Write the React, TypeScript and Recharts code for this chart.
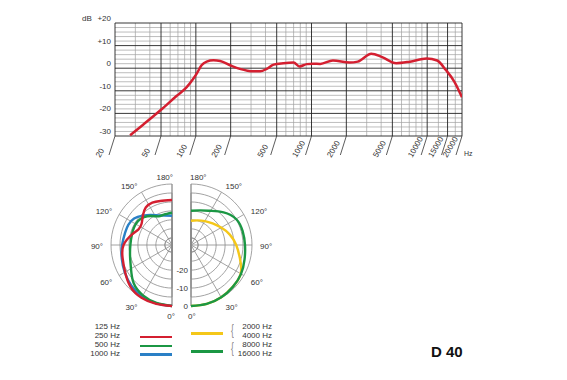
import React from "react";
import {
	CartesianGrid,
	Curve,
	Line,
	LineChart,
	PolarAngleAxis,
	PolarGrid,
	PolarRadiusAxis,
	Radar,
	RadarChart,
	XAxis,
	YAxis,
} from "recharts";

// frequency response (Hz / dB)
const freqHz = [27, 35, 50, 68, 83, 95, 102, 112, 124, 142, 162, 200, 240, 315, 360, 410, 470, 570, 700, 785, 910, 1030, 1190, 1530, 2130, 2510, 3290, 4080, 5400, 7090, 9900, 12200, 14500, 17200, 20000];
const responseDb = [-29.7, -25.0, -18.4, -12.3, -8.5, -4.7, -2.3, 1.3, 2.9, 3.5, 3.2, 1.2, -0.3, -1.4, -1.4, -0.3, 1.6, 2.2, 2.5, 0.8, 1.8, 2.0, 1.9, 3.4, 2.5, 2.9, 6.4, 4.9, 2.2, 2.9, 4.3, 3.4, -0.8, -6.0, -12.9];

const freqTicks = [20, 50, 100, 200, 500, 1000, 2000, 5000, 10000, 15000, 20000];
const freqMinor = [30, 40, 60, 70, 80, 90, 300, 400, 600, 700, 800, 900, 3000, 4000, 6000, 7000, 8000, 9000, 12500, 17500];
const dbTicks = [-30, -20, -10, 0, 10, 20];
const dbMinor = [-28, -26, -24, -22, -18, -16, -14, -12, -8, -6, -4, -2, 2, 4, 6, 8, 12, 14, 16, 18];

// polar patterns (degrees / dB)
const leftAngles = [0, 15, 30, 45, 60, 75, 90, 105, 115, 125, 135, 145, 155, 165, 180];
const red250 = [0, 0, 0, -1.2, -3.8, -5.5, -7, -11, -13.4, -13.3, -11, -8.5, -8, -8.6, -8.9];
const green500 = [0, -0.6, -1.6, -3.8, -7.6, -9.8, -10.8, -10.9, -10.7, -10.8, -12, -14.3, -16.4, -16.5, -16];
const blue1000 = [0, -0.3, -0.8, -2, -3.6, -5, -6.2, -7, -7.2, -8.2, -10.8, -13.5, -15.8, -17, -17.7];

const rightAngles = [0, 15, 30, 45, 60, 75, 90, 105, 120, 135, 150, 165, 180];
const yellow2000 = [0, 0, -0.3, -1.1, -2, -5.8, -8.8, -11.6, -14.6, -17, -18.6, -19.8, -20.5];
const green8000 = [0, 0, -0.3, -1, -1.8, -3.1, -3.9, -4.2, -5, -8.3, -12, -14, -14.9];

const angleTicks = [0, 30, 60, 90, 120, 150, 180];
const ringDb = [-30, -25, -20, -15, -10, -5, 0];
const radiusLabels = [-20, -10, 0];
const leftLegend = ["125 Hz", "250 Hz", "500 Hz", "1000 Hz"];
const rightLegend = ["2000 Hz", "4000 Hz", "8000 Hz", "16000 Hz"];

const RED = "#d41f30";
const GREEN = "#1b9744";
const BLUE = "#2a80c6";
const YELLOW = "#f4c719";
const FONT = "'Liberation Sans', Arial, Helvetica, sans-serif";

const DB_MIN = -34;
const OUTER = 61;
const ringRadius = ringDb.map((d) => ((d - DB_MIN) / -DB_MIN) * OUTER);

const responseData = freqHz.map((f, i) => ({ f, db: responseDb[i] }));
const leftData = leftAngles.map((angle, i) => ({ angle, red: red250[i], green: green500[i], blue: blue1000[i] }));
const rightData = rightAngles.map((angle, i) => ({ angle, yellow: yellow2000[i], green: green8000[i] }));

const leftArc = Array.from({ length: 37 }, (_, i) => 90 + i * 5);
const rightArc = Array.from({ length: 37 }, (_, i) => -90 + i * 5);
const leftSpokes = [270, 240, 210, 180, 150, 120, 90];
const rightSpokes = [-90, -60, -30, 0, 30, 60, 90];

function FreqTick({ x, y, payload }: any) {
	return (
		<g>
			<line stroke="#333" strokeWidth={0.8} x1={x} x2={x - 6} y1={y} y2={y + 19} />
			<text fill="#333" fontSize={8} transform={`translate(${x - 15},${y + 22}) rotate(-60)`}>
				{payload.value}
			</text>
		</g>
	);
}

function DbTick({ x, y, payload }: any) {
	const v = payload.value;
	return (
		<g>
			{v === 20 && (
				<text fill="#333" fontSize={8} x={82} y={y - 2}>
					dB
				</text>
			)}
			<text fill="#333" fontSize={8} textAnchor="end" x={x} y={y - 2}>
				{v > 0 ? `+${v}` : v}
			</text>
		</g>
	);
}

const angleTick = (side: "left" | "right") =>
	function AngleTick({ x, y, payload }: any) {
		const v = payload.value;
		const sign = side === "left" ? -1 : 1;
		let dx = 0;
		let dy = 1;
		if (v === 180) dx = sign * -1;
		if (v === 0) {
			dx = sign * -3;
			dy = 2;
		}
		if (v === 60 || v === 30) dy = 3;
		return (
			<text dominantBaseline="central" fill="#333" fontSize={8} textAnchor={side === "left" ? "end" : "start"} x={x + dx} y={y + dy}>
				{v}°
			</text>
		);
	};

function RadiusTick({ x, y, payload }: any) {
	return (
		<text dominantBaseline="central" fill="#333" fontSize={8} textAnchor="end" x={x - 3} y={y}>
			{payload.value}
		</text>
	);
}

const openCurve = (color: string) =>
	function OpenCurve(props: any) {
		return <Curve fill="none" points={props.points} stroke={color} strokeWidth={2.4} type="natural" />;
	};

const abs = (left: number, top: number): React.CSSProperties => ({ left, position: "absolute", top });

const braceStyle: React.CSSProperties = {
	color: "#888",
	fontSize: 14,
	fontWeight: 300,
	height: 16,
	lineHeight: "16px",
	transform: "scale(0.6, 1.05)",
};

export default function App() {
	return (
		<div style={{ background: "#fff", color: "#333", fontFamily: FONT, height: 380, left: 0, position: "absolute", top: 0, width: 567 }}>
			<div style={abs(0, 0)}>
				<LineChart data={responseData} height={170} margin={{ bottom: 4, left: 85, right: 105, top: 23 }} width={567}>
					<CartesianGrid horizontalValues={dbMinor} stroke="#a0a0a0" strokeWidth={0.7} verticalValues={freqMinor} />
					<CartesianGrid horizontalValues={dbTicks} stroke="#222" strokeWidth={0.9} verticalValues={freqTicks} />
					<XAxis
						allowDataOverflow
						axisLine={false}
						dataKey="f"
						domain={[20, 20000]}
						height={30}
						interval={0}
						scale="log"
						tick={<FreqTick />}
						tickLine={false}
						tickMargin={0}
						tickSize={0}
						ticks={freqTicks}
						type="number"
					/>
					<YAxis
						axisLine={false}
						domain={[-30, 20]}
						interval={0}
						tick={<DbTick />}
						tickLine={false}
						tickMargin={4}
						tickSize={0}
						ticks={dbTicks}
						type="number"
						width={30}
					/>
					<Line dataKey="db" dot={false} isAnimationActive={false} stroke={RED} strokeWidth={2.5} type="monotone" />
				</LineChart>
			</div>
			<div style={{ ...abs(464, 150), fontSize: 7 }}>Hz</div>

			<div style={abs(0, 0)}>
				<RadarChart cx={172} cy={245} data={leftData} endAngle={90} height={380} margin={{ bottom: 0, left: 0, right: 0, top: 0 }} outerRadius={OUTER} startAngle={270} width={300}>
					<PolarGrid gridType="polygon" polarAngles={leftArc} polarRadius={ringRadius} radialLines={false} stroke="#8c8c8c" strokeWidth={0.8} />
					<PolarGrid gridType="polygon" polarAngles={leftSpokes} polarRadius={[ringRadius[0]]} stroke="#8c8c8c" strokeWidth={0.8} />
					<PolarAngleAxis axisLine={false} dataKey="angle" domain={[0, 180]} tick={angleTick("left")} tickLine={false} ticks={angleTicks} type="number" />
					<PolarRadiusAxis allowDataOverflow axisLine={false} domain={[DB_MIN, 0]} tick={false} type="number" />
					<Radar dataKey="blue" dot={false} fill="none" isAnimationActive={false} shape={openCurve(BLUE)} stroke={BLUE} />
					<Radar dataKey="green" dot={false} fill="none" isAnimationActive={false} shape={openCurve(GREEN)} stroke={GREEN} />
					<Radar dataKey="red" dot={false} fill="none" isAnimationActive={false} shape={openCurve(RED)} stroke={RED} />
				</RadarChart>
			</div>

			<div style={abs(0, 0)}>
				<RadarChart cx={191} cy={245} data={rightData} endAngle={90} height={380} margin={{ bottom: 0, left: 0, right: 0, top: 0 }} outerRadius={OUTER} startAngle={-90} width={300}>
					<PolarGrid gridType="polygon" polarAngles={rightArc} polarRadius={ringRadius} radialLines={false} stroke="#8c8c8c" strokeWidth={0.8} />
					<PolarGrid gridType="polygon" polarAngles={rightSpokes} polarRadius={[ringRadius[0]]} stroke="#8c8c8c" strokeWidth={0.8} />
					<PolarAngleAxis axisLine={false} dataKey="angle" domain={[0, 180]} tick={angleTick("right")} tickLine={false} ticks={angleTicks} type="number" />
					<PolarRadiusAxis allowDataOverflow angle={-90} axisLine={false} domain={[DB_MIN, 0]} tick={<RadiusTick />} tickLine={false} ticks={radiusLabels} type="number" />
					<Radar dataKey="yellow" dot={false} fill="none" isAnimationActive={false} shape={openCurve(YELLOW)} stroke={YELLOW} />
					<Radar dataKey="green" dot={false} fill="none" isAnimationActive={false} shape={openCurve(GREEN)} stroke={GREEN} />
				</RadarChart>
			</div>

			{leftLegend.map((t, i) => (
				<div key={t} style={{ ...abs(60, 322 + i * 9), fontSize: 8, lineHeight: "10px", textAlign: "right", width: 60 }}>
					{t}
				</div>
			))}
			{rightLegend.map((t, i) => (
				<div key={t} style={{ ...abs(222, 322 + i * 9), fontSize: 8, lineHeight: "10px", textAlign: "right", width: 50 }}>
					{t}
				</div>
			))}
			<div style={{ ...abs(140, 335.5), background: RED, height: 2.5, width: 32 }} />
			<div style={{ ...abs(140, 344.5), background: GREEN, height: 2.5, width: 32 }} />
			<div style={{ ...abs(140, 353), background: BLUE, height: 2.5, width: 32 }} />
			<div style={{ ...abs(191, 332), background: YELLOW, height: 2.5, width: 32 }} />
			<div style={{ ...abs(191, 350), background: GREEN, height: 2.5, width: 32 }} />
			<div style={{ ...abs(230, 322), ...braceStyle }}>{"{"}</div>
			<div style={{ ...abs(230, 340), ...braceStyle }}>{"{"}</div>
			<div style={{ ...abs(431, 343), color: "#111", fontSize: 15, fontWeight: 700, lineHeight: "18px" }}>D 40</div>
		</div>
	);
}
